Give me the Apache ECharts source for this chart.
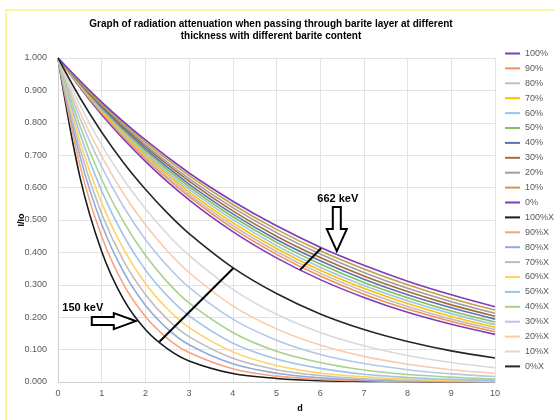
<!DOCTYPE html>
<html>
<head>
<meta charset="utf-8">
<script src="https://cdn.jsdelivr.net/npm/echarts@6/dist/echarts.min.js"></script>
<style>
  html, body { margin: 0; padding: 0; background: #fff; }
  #chart { width: 554px; height: 420px; }
</style>
</head>
<body>
<div id="chart"></div>
<script>
// thickness d (x values)
const thick662 = [0, 1, 2, 3, 4, 5, 6, 7, 8, 9, 10]
const thick150 = [0, 0.5, 1, 1.5, 2, 2.5, 3, 4, 5, 6, 7, 8, 9, 10]

// 662 keV, I/Io per barite content
const e662_100 = [1, 0.825, 0.681, 0.562, 0.464, 0.383, 0.316, 0.261, 0.215, 0.178, 0.147]
const e662_90 = [1, 0.830, 0.689, 0.572, 0.474, 0.394, 0.327, 0.271, 0.225, 0.187, 0.155]
const e662_80 = [1, 0.834, 0.695, 0.579, 0.483, 0.403, 0.336, 0.280, 0.233, 0.194, 0.162]
const e662_70 = [1, 0.837, 0.701, 0.587, 0.492, 0.412, 0.345, 0.289, 0.242, 0.202, 0.169]
const e662_60 = [1, 0.841, 0.707, 0.595, 0.501, 0.421, 0.354, 0.298, 0.251, 0.211, 0.177]
const e662_50 = [1, 0.845, 0.714, 0.603, 0.510, 0.431, 0.364, 0.307, 0.260, 0.219, 0.185]
const e662_40 = [1, 0.849, 0.720, 0.611, 0.519, 0.440, 0.374, 0.317, 0.269, 0.229, 0.194]
const e662_30 = [1, 0.853, 0.727, 0.620, 0.528, 0.450, 0.384, 0.327, 0.279, 0.238, 0.203]
const e662_20 = [1, 0.856, 0.733, 0.628, 0.538, 0.461, 0.395, 0.338, 0.289, 0.248, 0.212]
const e662_10 = [1, 0.860, 0.740, 0.637, 0.548, 0.471, 0.405, 0.349, 0.300, 0.258, 0.222]
const e662_0 = [1, 0.864, 0.747, 0.645, 0.558, 0.482, 0.416, 0.360, 0.311, 0.269, 0.232]

// 150 keV
const e150_100 = [1, 0.634, 0.403, 0.255, 0.162, 0.103, 0.065, 0.026, 0.011, 0.004, 0.002, 0.001, 0.000, 0.000]
const e150_90 = [1, 0.670, 0.449, 0.301, 0.202, 0.135, 0.091, 0.041, 0.018, 0.008, 0.004, 0.002, 0.001, 0.000]
const e150_80 = [1, 0.698, 0.487, 0.340, 0.237, 0.165, 0.115, 0.056, 0.027, 0.013, 0.006, 0.003, 0.002, 0.001]
const e150_70 = [1, 0.721, 0.519, 0.374, 0.270, 0.194, 0.140, 0.073, 0.038, 0.020, 0.010, 0.005, 0.003, 0.001]
const e150_60 = [1, 0.743, 0.552, 0.410, 0.304, 0.226, 0.168, 0.093, 0.051, 0.028, 0.016, 0.009, 0.005, 0.003]
const e150_50 = [1, 0.767, 0.589, 0.452, 0.346, 0.266, 0.204, 0.120, 0.071, 0.042, 0.024, 0.014, 0.008, 0.005]
const e150_40 = [1, 0.791, 0.625, 0.494, 0.391, 0.309, 0.244, 0.153, 0.095, 0.060, 0.037, 0.023, 0.015, 0.009]
const e150_30 = [1, 0.815, 0.664, 0.541, 0.440, 0.359, 0.292, 0.194, 0.129, 0.085, 0.057, 0.038, 0.025, 0.017]
const e150_20 = [1, 0.834, 0.696, 0.581, 0.485, 0.405, 0.338, 0.235, 0.164, 0.114, 0.079, 0.055, 0.038, 0.027]
const e150_10 = [1, 0.855, 0.731, 0.625, 0.535, 0.457, 0.391, 0.286, 0.209, 0.153, 0.112, 0.082, 0.060, 0.044]
const e150_0 = [1, 0.878, 0.771, 0.677, 0.595, 0.522, 0.458, 0.353, 0.273, 0.210, 0.162, 0.125, 0.096, 0.074]

// bracket lines across the curve families + arrow tips
const bracket150 = [[2.32, 0.124], [4.01, 0.351]]
const bracket662 = [[5.54, 0.346], [6.02, 0.413]]
const arrow150Tip = [1.78, 0.188]
const arrow662Tip = [6.38, 0.404]

const FONT = 'Liberation Sans, Arial, sans-serif'

const lines = [
  ['100%', thick662, e662_100, '#7E3DB8'],
  ['90%', thick662, e662_90, '#F0915A'],
  ['80%', thick662, e662_80, '#BFBFBF'],
  ['70%', thick662, e662_70, '#FFC000'],
  ['60%', thick662, e662_60, '#9DC3E6'],
  ['50%', thick662, e662_50, '#84BD5E'],
  ['40%', thick662, e662_40, '#5A75A8'],
  ['30%', thick662, e662_30, '#A86A45'],
  ['20%', thick662, e662_20, '#9E9E9E'],
  ['10%', thick662, e662_10, '#C0A048'],
  ['0%', thick662, e662_0, '#7E3DB8'],
  ['100%X', thick150, e150_100, '#1A1A1A'],
  ['90%X', thick150, e150_90, '#F8A27E'],
  ['80%X', thick150, e150_80, '#8FAADC'],
  ['70%X', thick150, e150_70, '#BDBDBD'],
  ['60%X', thick150, e150_60, '#FFD166'],
  ['50%X', thick150, e150_50, '#9DC3E6'],
  ['40%X', thick150, e150_40, '#A9D18E'],
  ['30%X', thick150, e150_30, '#B4C7E7'],
  ['20%X', thick150, e150_20, '#F8CBAD'],
  ['10%X', thick150, e150_10, '#D9D9D9'],
  ['0%X', thick150, e150_0, '#262626']
]

const series = lines.map(([name, xs, ys, color]) => ({
  name: name,
  type: 'line',
  data: xs.map((x, i) => [x, ys[i]]),
  symbol: 'none',
  smooth: 0.35,
  lineStyle: { width: 1.6, color: color },
  itemStyle: { color: color },
  silent: true
}))

// black bracket segments
;[bracket150, bracket662].forEach((seg, i) => {
  series.push({
    name: 'bracket' + i,
    type: 'line',
    data: seg,
    symbol: 'none',
    lineStyle: { width: 2, color: '#000' },
    silent: true,
    z: 5
  })
})

const chart = echarts.init(document.getElementById('chart'))
chart.setOption({
  animation: false,
  title: {
    text: 'Graph of radiation attenuation when passing through barite layer at different\nthickness with different barite content',
    left: 266,
    top: 13,
    textAlign: 'center',
    textStyle: { fontFamily: FONT, fontSize: 10, fontWeight: 'bold', color: '#000', lineHeight: 12 }
  },
  legend: {
    data: lines.map(l => l[0]),
    orient: 'vertical',
    left: 505,
    top: 49,
    padding: 0,
    icon: 'rect',
    itemWidth: 15,
    itemHeight: 2,
    itemGap: 5.9,
    textStyle: { fontFamily: FONT, fontSize: 9, color: '#595959' }
  },
  grid: { left: 58, right: 59, top: 58, bottom: 38, containLabel: false },
  xAxis: {
    type: 'value',
    min: 0,
    max: 10,
    interval: 1,
    name: 'd',
    nameLocation: 'middle',
    nameGap: 22,
    nameTextStyle: { fontFamily: FONT, fontSize: 9, fontWeight: 'bold', color: '#000', padding: [0, 0, 0, 47] },
    axisLine: { lineStyle: { color: '#d0d0d0' } },
    axisTick: { show: false },
    axisLabel: { fontFamily: FONT, fontSize: 9, color: '#595959', margin: 7 },
    splitLine: { lineStyle: { color: '#e3e3e3' } }
  },
  yAxis: {
    type: 'value',
    min: 0,
    max: 1,
    interval: 0.1,
    name: 'I/Io',
    nameLocation: 'middle',
    nameGap: 32,
    nameMoveOverlap: false,
    nameTextStyle: { fontFamily: FONT, fontSize: 9, fontWeight: 'bold', color: '#000' },
    axisLine: { show: true, lineStyle: { color: '#d0d0d0' } },
    axisTick: { show: false },
    axisLabel: { fontFamily: FONT, fontSize: 9, color: '#595959', margin: 11, formatter: v => v.toFixed(3) },
    splitLine: { lineStyle: { color: '#e3e3e3' } }
  },
  series: series
})

// arrows and energy labels, placed from data coordinates
const p150 = chart.convertToPixel({ gridIndex: 0 }, arrow150Tip)
const p662 = chart.convertToPixel({ gridIndex: 0 }, arrow662Tip)
const arrowStyle = { fill: '#fff', stroke: '#000', lineWidth: 2 }
const labelStyle = { fontFamily: FONT, fontSize: 11, fontWeight: 'bold', fill: '#000', align: 'center', verticalAlign: 'middle' }

chart.setOption({
  graphic: [
    {
      type: 'rect',
      shape: { x: 6, y: 10, width: 700, height: 600 },
      style: { fill: 'none', stroke: '#FBF6A0', lineWidth: 2 },
      silent: true
    },
    {
      type: 'polygon',
      x: p150[0], y: p150[1],
      shape: { points: [[-44, -4], [-22, -4], [-22, -8], [0, 0], [-22, 8], [-22, 4], [-44, 4]] },
      style: arrowStyle,
      z: 10
    },
    {
      type: 'polygon',
      x: p662[0], y: p662[1],
      shape: { points: [[-4, -44], [4, -44], [4, -22], [10, -22], [0, 0], [-10, -22], [-4, -22]] },
      style: arrowStyle,
      z: 10
    },
    {
      type: 'text',
      x: p150[0] - 53, y: p150[1] - 13,
      style: Object.assign({ text: '150 keV' }, labelStyle),
      z: 10
    },
    {
      type: 'text',
      x: p662[0] + 1, y: p662[1] - 52,
      style: Object.assign({ text: '662 keV' }, labelStyle),
      z: 10
    }
  ]
})

window.addEventListener('resize', function () {
  chart.resize()
})
</script>
</body>
</html>
